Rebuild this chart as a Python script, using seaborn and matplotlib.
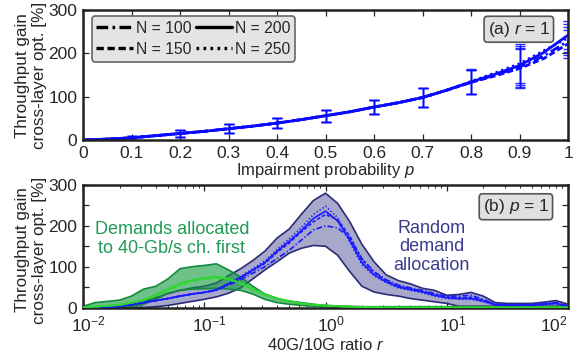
import matplotlib
matplotlib.use('Agg')
import matplotlib.pyplot as plt
from matplotlib.lines import Line2D
import seaborn as sns
import numpy as np
import pandas as pd

# ---- (a) gain vs impairment probability, r = 1 ----
p_vals = [0, 0.05, 0.1, 0.15, 0.2, 0.25, 0.3, 0.35, 0.4, 0.45, 0.5,
          0.55, 0.6, 0.65, 0.7, 0.75, 0.8, 0.85, 0.9, 0.95, 1.0]
gain_n100 = [0, 2, 5, 10, 15, 20, 26, 32, 39, 47, 56, 65, 76, 86, 98, 115, 133, 150, 168, 194, 228]
gain_n150 = [0, 2, 5, 10, 15, 20, 26, 32, 39, 47, 56, 65, 76, 86, 98, 115, 133, 148, 165, 188, 222]
gain_n200 = [0, 2, 5, 10, 15, 20, 26, 32, 39, 47, 56, 65, 76, 86, 98, 115, 134, 152, 172, 202, 242]
gain_n250 = [0, 2, 5, 10, 15, 20, 26, 32, 39, 47, 56, 65, 76, 86, 98, 115, 135, 155, 176, 206, 236]
p_err = [0.1, 0.2, 0.3, 0.4, 0.5, 0.6, 0.7, 0.8, 0.9, 1.0]
err_half = [5, 8, 10, 12, 14, 17, 22, 28, 45, 32]

# ---- (b) gain vs 40G/10G ratio, p = 1 ----
r_exp = [-2.0, -1.9, -1.8, -1.7, -1.6, -1.5, -1.4, -1.3, -1.2, -1.1, -1.0,
         -0.9, -0.8, -0.7, -0.6, -0.5, -0.4, -0.3, -0.2, -0.1, 0.0,
         0.1, 0.2, 0.3, 0.4, 0.5, 0.6, 0.7, 0.8, 0.9, 1.0,
         1.1, 1.2, 1.3, 1.4, 1.5, 1.6, 1.7, 1.8, 1.9, 2.0]

# random demand allocation (blue)
rand_n100 = [0, 0, 1, 3, 7, 12, 17, 22, 28, 33, 37, 42, 55, 68, 84, 100, 120, 140, 165, 190, 200,
             195, 170, 120, 88, 68, 55, 48, 42, 34, 28, 28, 30, 20, 8, 7, 7, 7, 10, 12, 4]
rand_n150 = [0, 0, 1, 3, 7, 12, 17, 22, 28, 33, 37, 43, 57, 72, 90, 108, 135, 158, 185, 210, 228,
             215, 175, 118, 86, 66, 52, 46, 40, 32, 26, 24, 25, 18, 7, 6, 6, 6, 9, 11, 3]
rand_n200 = [0, 0, 1, 3, 7, 12, 17, 22, 28, 33, 37, 43, 58, 74, 92, 110, 138, 162, 188, 218, 236,
             212, 165, 110, 80, 63, 50, 44, 38, 30, 24, 22, 22, 16, 7, 6, 6, 6, 8, 10, 3]
rand_n250 = [0, 0, 1, 3, 7, 12, 17, 22, 28, 33, 37, 44, 60, 76, 95, 114, 142, 168, 195, 228, 248,
             220, 160, 105, 78, 61, 48, 42, 36, 28, 22, 20, 20, 14, 6, 5, 5, 5, 7, 9, 3]
rand_upper = [0, 0, 1, 2, 4, 14, 24, 34, 42, 48, 52, 60, 78, 95, 115, 138, 170, 192, 228, 262, 280,
              255, 210, 155, 112, 80, 66, 58, 47, 42, 30, 32, 37, 28, 12, 10, 10, 10, 13, 17, 8]
rand_lower = [0, 0, 0, 0, 0, 0, 2, 5, 10, 15, 20, 26, 35, 48, 70, 92, 112, 133, 145, 152, 150,
              128, 88, 52, 38, 32, 28, 22, 18, 14, 10, 3, 3, 3, 3, 3, 3, 3, 3, 3, 3]

# demands allocated to 40-Gb/s channels first (green)
first_n100 = [0, 2, 4, 6, 11, 17, 28, 42, 55, 64, 70, 72, 68, 58, 44, 31, 21, 14, 9, 6, 4,
              3, 2, 1, 1, 0, 0, 0, 0, 0, 0, 0, 0, 0, 0, 0, 0, 0, 0, 0, 0]
first_n150 = [0, 2, 4, 6, 12, 18, 30, 44, 57, 66, 71, 74, 70, 60, 46, 33, 22, 15, 10, 7, 5,
              3, 2, 1, 1, 0, 0, 0, 0, 0, 0, 0, 0, 0, 0, 0, 0, 0, 0, 0, 0]
first_n200 = [0, 2, 4, 6, 12, 18, 30, 45, 58, 67, 72, 75, 70, 60, 45, 32, 22, 15, 10, 7, 5,
              3, 2, 1, 1, 0, 0, 0, 0, 0, 0, 0, 0, 0, 0, 0, 0, 0, 0, 0, 0]
first_n250 = [0, 3, 5, 8, 14, 20, 33, 48, 60, 69, 74, 77, 72, 62, 47, 33, 23, 16, 11, 7, 5,
              3, 2, 1, 1, 0, 0, 0, 0, 0, 0, 0, 0, 0, 0, 0, 0, 0, 0, 0, 0]
first_upper = [3, 12, 15, 18, 28, 45, 52, 70, 95, 100, 103, 107, 92, 75, 52, 33, 22, 16, 12, 8, 5,
               4, 3, 2, 2, 2, 2, 2, 2, 2, 2, 2, 2, 2, 2, 2, 2, 2, 2, 2, 2]
first_lower = [0, 0, 0, 0, 0, 8, 20, 35, 42, 45, 46, 47, 45, 42, 33, 20, 12, 8, 5, 3, 2,
               0, 0, 0, 0, 0, 0, 0, 0, 0, 0, 0, 0, 0, 0, 0, 0, 0, 0, 0, 0]

n_labels = ['N = 100', 'N = 150', 'N = 200', 'N = 250']
dash_map = {'N = 100': (3.5, 1.3, 0.8, 1.3), 'N = 150': (2.2, 1.1),
            'N = 200': '', 'N = 250': (0.8, 1.3)}

r_ticks = [1e-2, 1e-1, 1e0, 1e1, 1e2]
r_tick_labels = ['$10^{-2}$', '$10^{-1}$', '$10^{0}$', '$10^{1}$', '$10^{2}$']

sns.set_style('ticks')
plt.rcParams['font.family'] = ['Liberation Sans', 'DejaVu Sans']
plt.rcParams['mathtext.fontset'] = 'custom'
plt.rcParams['mathtext.rm'] = 'Liberation Sans'
plt.rcParams['mathtext.it'] = 'Liberation Sans:italic'
plt.rcParams['font.size'] = 12

fig = plt.figure(figsize=(5.73, 3.52), dpi=100)
ax1 = fig.add_axes([0.1449, 0.6023, 0.8464, 0.3693])
ax2 = fig.add_axes([0.1449, 0.1264, 0.8464, 0.3480])

blue = '#0a0aff'
tick_fs = 12.5

# ---- panel (a) ----
top_df = pd.DataFrame({
    'p': p_vals * 4,
    'gain': gain_n100 + gain_n150 + gain_n200 + gain_n250,
    'N': sum([[n] * len(p_vals) for n in n_labels], []),
})
sns.lineplot(data=top_df, x='p', y='gain', style='N', dashes=dash_map,
             style_order=n_labels, color=blue, linewidth=2.0, ax=ax1, legend=False)
for n in n_labels:
    sub = top_df[(top_df['N'] == n) & (top_df['p'].round(2).isin(p_err))]
    ax1.errorbar(sub['p'], sub['gain'], yerr=err_half, fmt='none', ecolor=blue,
                 elinewidth=1.0, capsize=3.5, capthick=1.0, alpha=0.85)

ax1.set_xlim(0, 1)
ax1.set_ylim(0, 300)
ax1.set_xticks(np.round(np.arange(0, 1.01, 0.1), 1))
ax1.set_xticklabels(['0', '0.1', '0.2', '0.3', '0.4', '0.5', '0.6', '0.7', '0.8', '0.9', '1'])
ax1.set_yticks([0, 100, 200, 300])
ax1.set_xlabel('Impairment probability $p$', labelpad=0, fontsize=12)
ax1.set_ylabel('')

handles = []
for n in n_labels:
    if dash_map[n]:
        handles.append(Line2D([0], [0], color='black', lw=2.4, dashes=dash_map[n]))
    else:
        handles.append(Line2D([0], [0], color='black', lw=2.4, linestyle='-'))
leg = ax1.legend(handles, n_labels, ncol=2, loc='upper left', bbox_to_anchor=(0.018, 0.955),
                 borderaxespad=0, handlelength=2.3, handletextpad=0.2, columnspacing=0.3,
                 labelspacing=0.4, borderpad=0.3, fancybox=True, framealpha=1, fontsize=11.3)
leg.get_frame().set_facecolor('#e4e4e4')
leg.get_frame().set_edgecolor('#666666')
leg.get_frame().set_linewidth(1.2)

ax1.text(0.963, 0.925, '(a) $r$ = 1', transform=ax1.transAxes, ha='right', va='top',
         fontsize=12.5, bbox=dict(boxstyle='round,pad=0.2', fc='#e0e0e0', ec='#555555', lw=1.2))

# ---- panel (b) ----
r_vals = [10 ** e for e in r_exp]
ax2.set_xscale('log')
ax2.fill_between(r_vals, rand_lower, rand_upper, facecolor='#525299', alpha=0.5,
                 edgecolor='none', zorder=1)
ax2.plot(r_vals, rand_upper, color='#2b2b77', lw=1.2, zorder=1.5)
ax2.plot(r_vals, rand_lower, color='#2b2b77', lw=1.2, zorder=1.5)
ax2.fill_between(r_vals, first_lower, first_upper, facecolor='#0d9a3a', alpha=0.6,
                 edgecolor='none', zorder=2)
ax2.plot(r_vals, first_upper, color='#138a3c', lw=1.2, zorder=2.5)
ax2.plot(r_vals, first_lower, color='#138a3c', lw=1.2, zorder=2.5)

rand_df = pd.DataFrame({
    'r': r_vals * 4,
    'gain': rand_n100 + rand_n150 + rand_n200 + rand_n250,
    'N': sum([[n] * len(r_vals) for n in n_labels], []),
})
first_df = pd.DataFrame({
    'r': r_vals * 4,
    'gain': first_n100 + first_n150 + first_n200 + first_n250,
    'N': sum([[n] * len(r_vals) for n in n_labels], []),
})
sns.lineplot(data=rand_df, x='r', y='gain', style='N', dashes=dash_map, style_order=n_labels,
             color='#1a1aff', linewidth=1.2, ax=ax2, legend=False, zorder=3)
sns.lineplot(data=first_df, x='r', y='gain', style='N', dashes=dash_map, style_order=n_labels,
             color='#2fd62f', linewidth=1.2, ax=ax2, legend=False, zorder=3)

ax2.set_xlim(1e-2, 1e2)
ax2.set_ylim(0, 300)
ax2.set_xticks(r_ticks)
ax2.set_xticklabels([])
ax2.set_yticks([0, 50, 100, 150, 200, 250, 300])
ax2.set_yticklabels(['0', '', '100', '', '200', '', '300'])
ax2.set_xlabel('40G/10G ratio $r$', labelpad=17, fontsize=12)
ax2.set_ylabel('')

# MATLAB-style log labels: base "10" centred on the tick, last one kept inside
for i, (t, lab) in enumerate(zip(r_ticks, r_tick_labels)):
    last = i == len(r_ticks) - 1
    ax2.annotate(lab, xy=(t, 0), xycoords=('data', 'axes fraction'),
                 xytext=(0 if last else 4, -5), textcoords='offset points',
                 ha='right' if last else 'center', va='top', fontsize=tick_fs)

ax2.text(0.054, 168, 'Demands allocated\nto 40-Gb/s ch. first', ha='center', va='center',
         color='#1f9a57', fontsize=13, linespacing=1.1)
ax2.text(7.5, 149, 'Random\ndemand\nallocation', ha='center', va='center',
         color='#3a3a8c', fontsize=13, linespacing=1.12)
ax2.text(0.961, 0.9, '(b) $p$ = 1', transform=ax2.transAxes, ha='right', va='top',
         fontsize=12.5, bbox=dict(boxstyle='round,pad=0.2', fc='#e0e0e0', ec='#555555', lw=1.2))

for ax in (ax1, ax2):
    ax.tick_params(which='both', direction='in', top=True, right=True, labelsize=tick_fs, pad=4)
    ax.tick_params(which='major', length=4, width=0.9)
    ax.tick_params(which='minor', length=2.5, width=0.7)
    for s in ax.spines.values():
        s.set_linewidth(1.8)
        s.set_color('#222222')

ylab = 'Throughput gain\ncross-layer opt. [%]'
fig.text(0.054, 0.785, ylab, rotation=90, ha='center', va='center', fontsize=12.3, linespacing=1.15)
fig.text(0.054, 0.29, ylab, rotation=90, ha='center', va='center', fontsize=12.3, linespacing=1.15)

fig.savefig('out.png', dpi=100)
